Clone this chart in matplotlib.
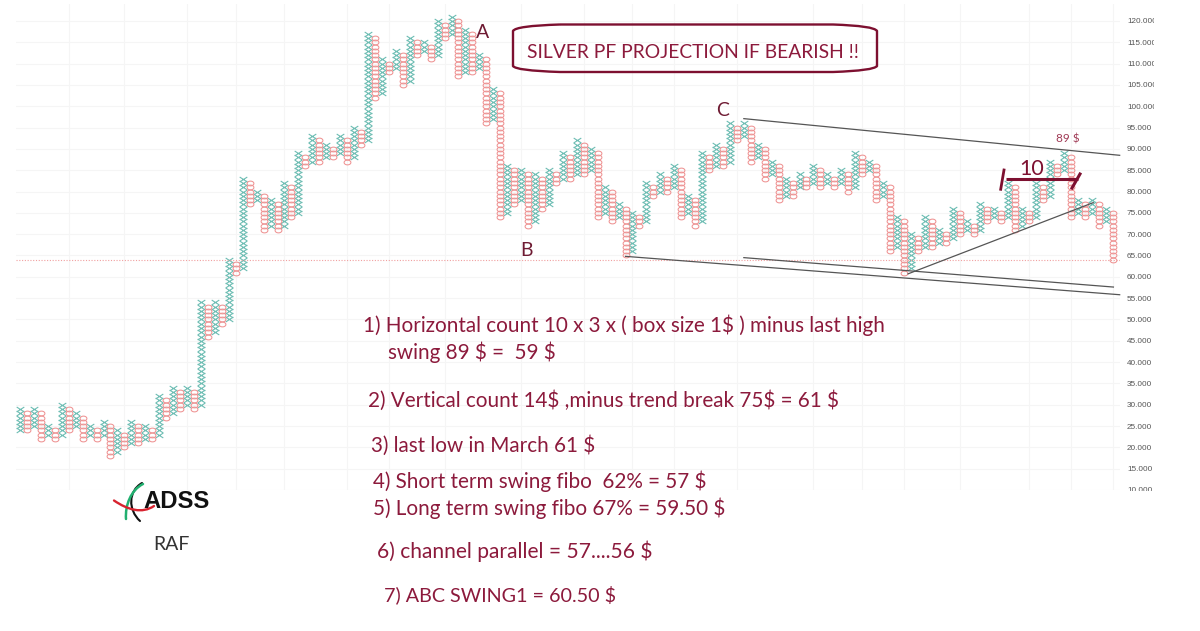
import numpy as np
import matplotlib
matplotlib.use("Agg")
import matplotlib.pyplot as plt
from matplotlib.path import Path
from matplotlib.patches import PathPatch
from matplotlib.transforms import Bbox

# Point & figure columns: even index = X column, odd index = O column
col_low = [24,24,25,22,23,22,23,24,25,22,23,22,23,18,19,20,21,21,22,22,23,27,28,29,30,29,30,46,47,49,
           50,61,62,77,78,71,72,71,72,74,75,86,87,87,88,88,89,87,88,91,92,102,103,108,109,105,106,112,113,111,
           112,116,117,107,108,108,109,96,97,74,75,77,78,72,73,76,77,82,83,83,84,84,85,74,75,73,74,65,66,72,
           73,79,80,80,81,74,75,72,73,85,86,86,87,92,93,87,88,83,84,78,79,79,81,81,82,81,82,81,82,80,
           81,84,85,78,79,66,67,61,62,66,67,67,68,68,69,70,71,70,71,73,74,73,74,71,72,73,74,78,79,84,
           85,74,75,74,75,72,73,64]
col_high = [29,28,29,28,25,24,30,29,28,27,25,24,26,25,24,23,26,25,25,24,32,31,34,33,34,33,54,53,54,53,
            64,63,83,82,80,79,78,77,82,81,89,88,93,92,91,90,93,92,95,94,117,116,111,110,113,112,116,115,115,114,
            120,119,121,120,118,117,112,111,104,103,86,85,85,84,84,83,85,84,89,88,92,91,90,89,81,80,77,76,75,74,
            82,81,84,83,86,85,79,78,89,88,91,90,96,95,96,95,91,90,87,86,83,82,84,83,86,85,84,83,85,84,
            89,88,87,86,82,81,74,73,70,69,74,73,71,70,76,75,73,72,77,76,76,75,82,81,76,75,82,81,87,86,
            89,88,78,77,78,77,76,75]

price_ticks = [120,115,110,105,100,95,90,85,80,75,70,65,60,55,50,45,40,35,30,25,20,15,10]
grid_cols = [7,15,24,31,38,47,53,61,72,81,88,94,103,114,121,127,135,145,151,157]
last_price = 64

trend_upper_cols = [104, 158]
trend_upper_prices = [97.1, 88.5]
trend_lower_cols = [87, 158]
trend_lower_prices = [64.8, 55.8]
trend_mid_cols = [104, 157.1]
trend_mid_prices = [64.5, 57.6]
trend_rise_cols = [127.6, 154.2]
trend_rise_prices = [60.7, 77.4]

notes = [
    "1) Horizontal count 10 x 3 x ( box size 1$ ) minus last high",
    "swing 89 $ =  59 $",
    "2) Vertical count 14$ ,minus trend break 75$ = 61 $",
    "3) last low in March 61 $",
    "4) Short term swing fibo  62% = 57 $",
    "5) Long term swing fibo 67% = 59.50 $",
    "6) channel parallel = 57....56 $",
    "7) ABC SWING1 = 60.50 $",
]
note_x = [363, 388, 368, 371, 373, 373, 377, 384]
note_y = [325, 352, 401, 446, 481, 508, 551, 595]
note_size = [14.9, 14.9, 14.9, 14.9, 14.85, 14.85, 15.1, 14.2]

RED = "#8c1a3c"
W, H = 1200, 631
plt.rcParams['font.family'] = ['Lato', 'DejaVu Sans']
fig = plt.figure(figsize=(W/100, H/100), dpi=100, facecolor="white")

# axes placed so that 120 -> y=21 px, 10 -> y=490 px, col 0 -> x=20 px, col 157 -> x=1112.7 px
px_l, px_r, px_t, px_b = 16, 1120, 4, 490
ax = fig.add_axes([px_l/W, 1-px_b/H, (px_r-px_l)/W, (px_b-px_t)/H])
ax.set_xlim((px_l-20)/6.96, (px_r-20)/6.96)
ax.set_ylim(10, 120+(21-px_t)/4.264)
for s in ax.spines.values():
    s.set_visible(False)
ax.set_xticks(grid_cols)
ax.set_yticks(price_ticks)
ax.set_xticklabels([])
ax.yaxis.tick_right()
ax.set_yticklabels([f"{p:.3f}" for p in price_ticks], fontsize=5.9, color="#555555", family="Liberation Sans")
ax.tick_params(length=0, pad=5)
ax.grid(True, color="#f5f5f5", lw=0.8)
ax.set_axisbelow(True)
clip = Bbox([[0, H-491], [1153.5, H]])
for lbl in ax.get_yticklabels():
    lbl.set_clip_box(clip)
    lbl.set_clip_on(True)

t = np.linspace(0, 2*np.pi, 33)
o_marker = Path(np.c_[np.cos(t)*3.0, np.sin(t)*2.1], closed=True)
x_marker = Path([(-3.4,-2.2),(3.4,2.2),(-3.4,2.2),(3.4,-2.2)], [Path.MOVETO,Path.LINETO,Path.MOVETO,Path.LINETO])

xs_c, xs_p, os_c, os_p = [], [], [], []
for i, (lo, hi) in enumerate(zip(col_low, col_high)):
    vals = list(range(lo, hi+1))
    if i % 2 == 0:
        xs_c += [i]*len(vals); xs_p += vals
    else:
        os_c += [i]*len(vals); os_p += vals
ax.plot(xs_c, xs_p, ls="none", marker=x_marker, ms=7.6*0.72, mfc="none", mec="#6dbdb3", mew=0.8, clip_on=False)
ax.plot(os_c, os_p, ls="none", marker=o_marker, ms=6.8*0.72, mfc="none", mec="#ee9292", mew=0.75, clip_on=False)

ax.axhline(last_price, color="#f0a0a0", lw=0.8, ls=(0, (1, 1.5)))
for cs, ps in [(trend_upper_cols, trend_upper_prices), (trend_lower_cols, trend_lower_prices),
               (trend_mid_cols, trend_mid_prices), (trend_rise_cols, trend_rise_prices)]:
    ax.plot(cs, ps, color="#555555", lw=0.9, clip_on=False)

# overlay in reference pixel coordinates for hand-drawn annotations
ov = fig.add_axes([0, 0, 1, 1], facecolor="none")
ov.set_xlim(0, W); ov.set_ylim(H, 0); ov.axis("off")

for s, x, y, fs in zip(notes, note_x, note_y, note_size):
    ov.text(x, y, s, color=RED, fontsize=fs, va="center", ha="left", parse_math=False)

ov.text(527, 52, "SILVER PF PROJECTION IF BEARISH !!", color=RED, fontsize=13.85, va="center", ha="left", parse_math=False)
box = Path([(560,24.5),(530,25.5),(515,27.5),(513,31),(513,42),(513,55),(513,66),(515,69),(530,71),(560,72),
            (833,72),(860,71),(875,69),(877,66),(877,55),(877,42),(877,31),(875,27.5),(860,25.5),(833,24.5),(560,24.5)],
           [Path.MOVETO,Path.CURVE4,Path.CURVE4,Path.CURVE4,Path.CURVE4,Path.CURVE4,Path.CURVE4,Path.CURVE4,Path.CURVE4,Path.CURVE4,
            Path.LINETO,Path.CURVE4,Path.CURVE4,Path.CURVE4,Path.CURVE4,Path.CURVE4,Path.CURVE4,Path.CURVE4,Path.CURVE4,Path.CURVE4,Path.LINETO])
ov.add_patch(PathPatch(box, fc="none", ec="#7d1030", lw=1.7))

for s, x, y in [("A", 483, 33), ("B", 527, 251), ("C", 723, 110)]:
    ov.text(x, y, s, color="#6e1a32", fontsize=14, va="center", ha="center")
ov.text(1032, 169, "10", color="#7d1030", fontsize=15.5, va="center", ha="center")
ov.text(1068, 139, "89 $", color="#a03a55", fontsize=8.5, va="center", ha="center", parse_math=False)
ov.plot([1006, 1078], [179.3, 179.3], color="#7d1030", lw=2.2, solid_capstyle="butt")
ov.plot([1004, 1000.7], [170, 189.3], color="#7d1030", lw=2.0)
ov.plot([1080, 1072], [174, 188], color="#7d1030", lw=2.2)

# logo
ov.text(177, 501.5, "ADSS", color="#111111", fontsize=17.2, fontweight="bold", family="Liberation Sans", va="center", ha="center")
def curve(p, **kw):
    ov.add_patch(PathPatch(Path(p, [Path.MOVETO, Path.CURVE4, Path.CURVE4, Path.CURVE4]), fc="none", capstyle="round", **kw))
curve([(142,483),(128,491),(128,510),(140,521)], ec="#111111", lw=1.5)
curve([(143,484),(131,490),(125,505),(126,519)], ec="#22b070", lw=1.8)
curve([(114,500.5),(128,510),(142,514),(154,506)], ec="#d8232f", lw=1.7)
ov.text(171, 545, "RAF", color="#333333", fontsize=14, va="center", ha="center")

fig.savefig("out.png", dpi=100)
